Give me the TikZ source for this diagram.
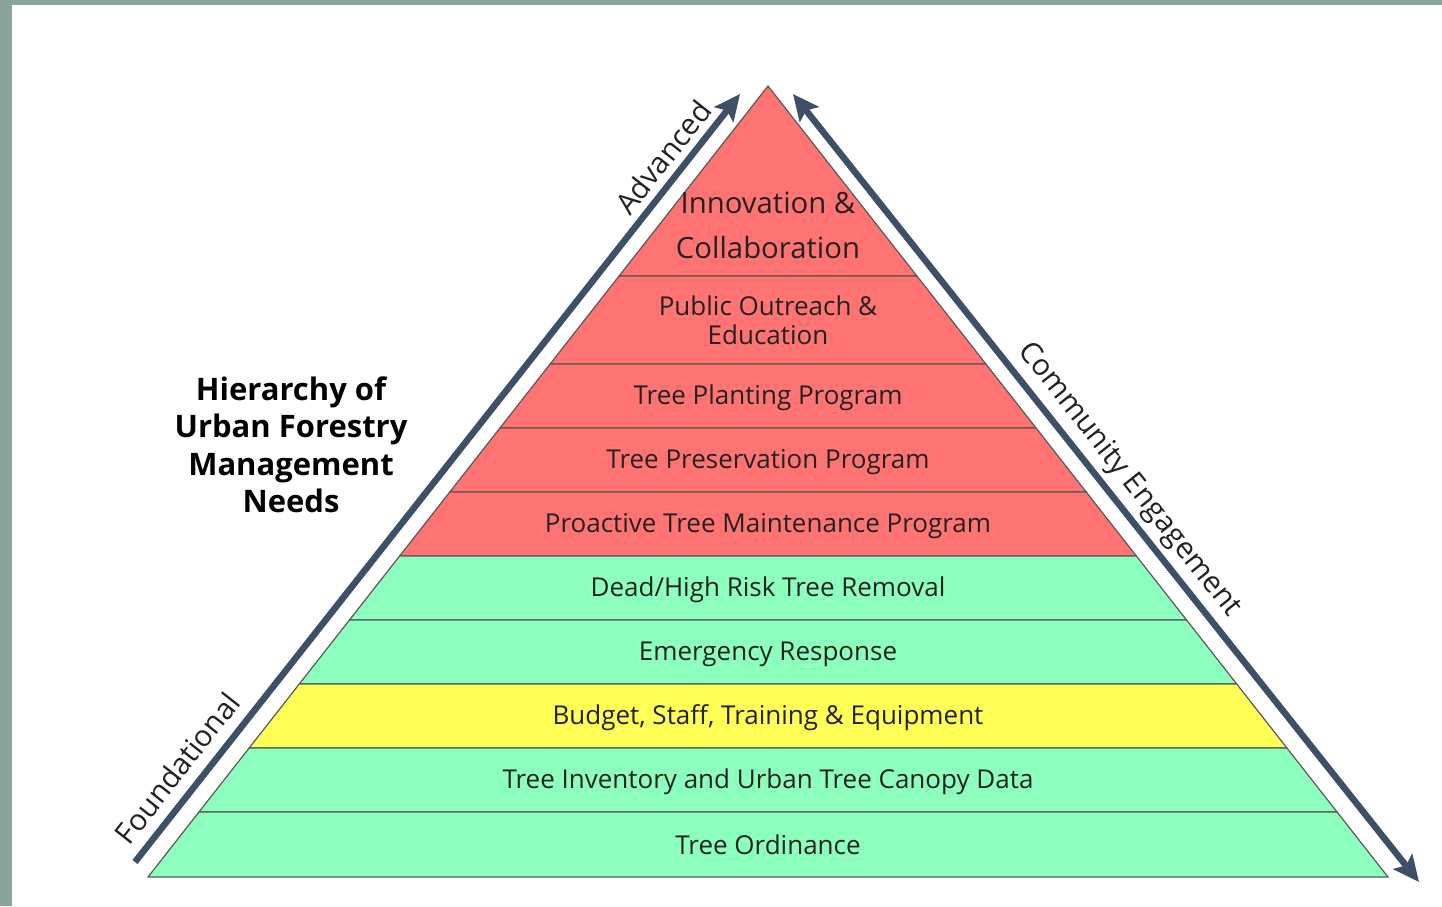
\documentclass[tikz,border=0pt]{standalone}
\usepackage{fontspec}
\setmainfont{Open Sans}
\usetikzlibrary{arrows.meta}
\definecolor{frame}{HTML}{8AA39C}
\definecolor{redband}{HTML}{FF7373}
\definecolor{greenband}{HTML}{8CFFBE}
\definecolor{yellowband}{HTML}{FFFF55}
\definecolor{arrowc}{HTML}{3E5068}
\definecolor{txt}{HTML}{222222}
\tikzset{
  band/.style={draw=black!65, line width=1.2pt},
  bandtext/.style={text=txt, font=\fontsize{26}{29}\selectfont, align=center, inner sep=0pt},
  bigtext/.style={text=txt, font=\fontsize{29.3}{45}\selectfont, align=center, inner sep=0pt},
  sidelabel/.style={text=txt, font=\fontsize{29.5}{32}\selectfont, inner sep=0pt},
  bigarrow/.style={draw=arrowc, line width=6.5pt},
}
\begin{document}
\begin{tikzpicture}[x=1pt,y=-1pt]
\useasboundingbox (0,0) rectangle (1442,906);
\fill[frame] (0,0) rectangle (1442,906);
\fill[white] (12,5) rectangle (1442,906);
% pyramid geometry: apex (768,86), base y=877, half width 620
\def\ax{768}\def\ay{86}\def\by{877}\def\hw{620}
\newcommand{\layer}[3]{%
  \pgfmathsetmacro{\wa}{(#1-\ay)/(\by-\ay)*\hw}%
  \pgfmathsetmacro{\wb}{(#2-\ay)/(\by-\ay)*\hw}%
  \filldraw[band, fill=#3] ({\ax-\wa},#1) -- ({\ax+\wa},#1) -- ({\ax+\wb},#2) -- ({\ax-\wb},#2) -- cycle;}
\layer{86}{276}{redband}
\layer{276}{364}{redband}
\layer{364}{428}{redband}
\layer{428}{492}{redband}
\layer{492}{556}{redband}
\layer{556}{620}{greenband}
\layer{620}{684}{greenband}
\layer{684}{748}{yellowband}
\layer{748}{812}{greenband}
\layer{812}{877}{greenband}
% texts
\node[bigtext] (l1) at (768,225) {Innovation \&\\Collaboration};
\node[bandtext] (l2) at (768,320) {Public Outreach \&\\Education};
\node[bandtext] (l3) at (768,398) {Tree Planting Program};
\node[bandtext] (l4) at (768,462) {Tree Preservation Program};
\node[bandtext] (l5) at (768,526) {Proactive Tree Maintenance Program};
\node[bandtext] (l6) at (768,590) {Dead/High Risk Tree Removal};
\node[bandtext] (l7) at (768,654) {Emergency Response};
\node[bandtext] (l8) at (768,718) {Budget, Staff, Training \& Equipment};
\node[bandtext] (l9) at (768,782) {Tree Inventory and Urban Tree Canopy Data};
\node[bandtext] (l10) at (768,845) {Tree Ordinance};
% arrows
\coordinate (lA) at (135,862);
\coordinate (lB) at (740,94);
\coordinate (rA) at (793,94);
\coordinate (rB) at (1419,882);
\draw[bigarrow, -{Stealth[length=26pt,width=24pt,inset=5pt]}] (lA) -- (lB);
\draw[bigarrow, {Stealth[length=26pt,width=24pt,inset=5pt]}-{Stealth[length=26pt,width=24pt,inset=5pt]}] (rA) -- (rB);
% side labels
\node[sidelabel, rotate=51.8] (adv) at (663,157) {Advanced};
\node[sidelabel, rotate=51.8] (fnd) at (177,768) {Foundational};
\node[sidelabel, rotate=-51.6] (com) at (1129,480) {Community Engagement};
% title
\node[text=black, font=\bfseries\fontsize{31}{37.5}\selectfont, align=center, inner sep=0pt] (title) at (291,445) {Hierarchy of\\Urban Forestry\\Management\\Needs};
\end{tikzpicture}
\end{document}
